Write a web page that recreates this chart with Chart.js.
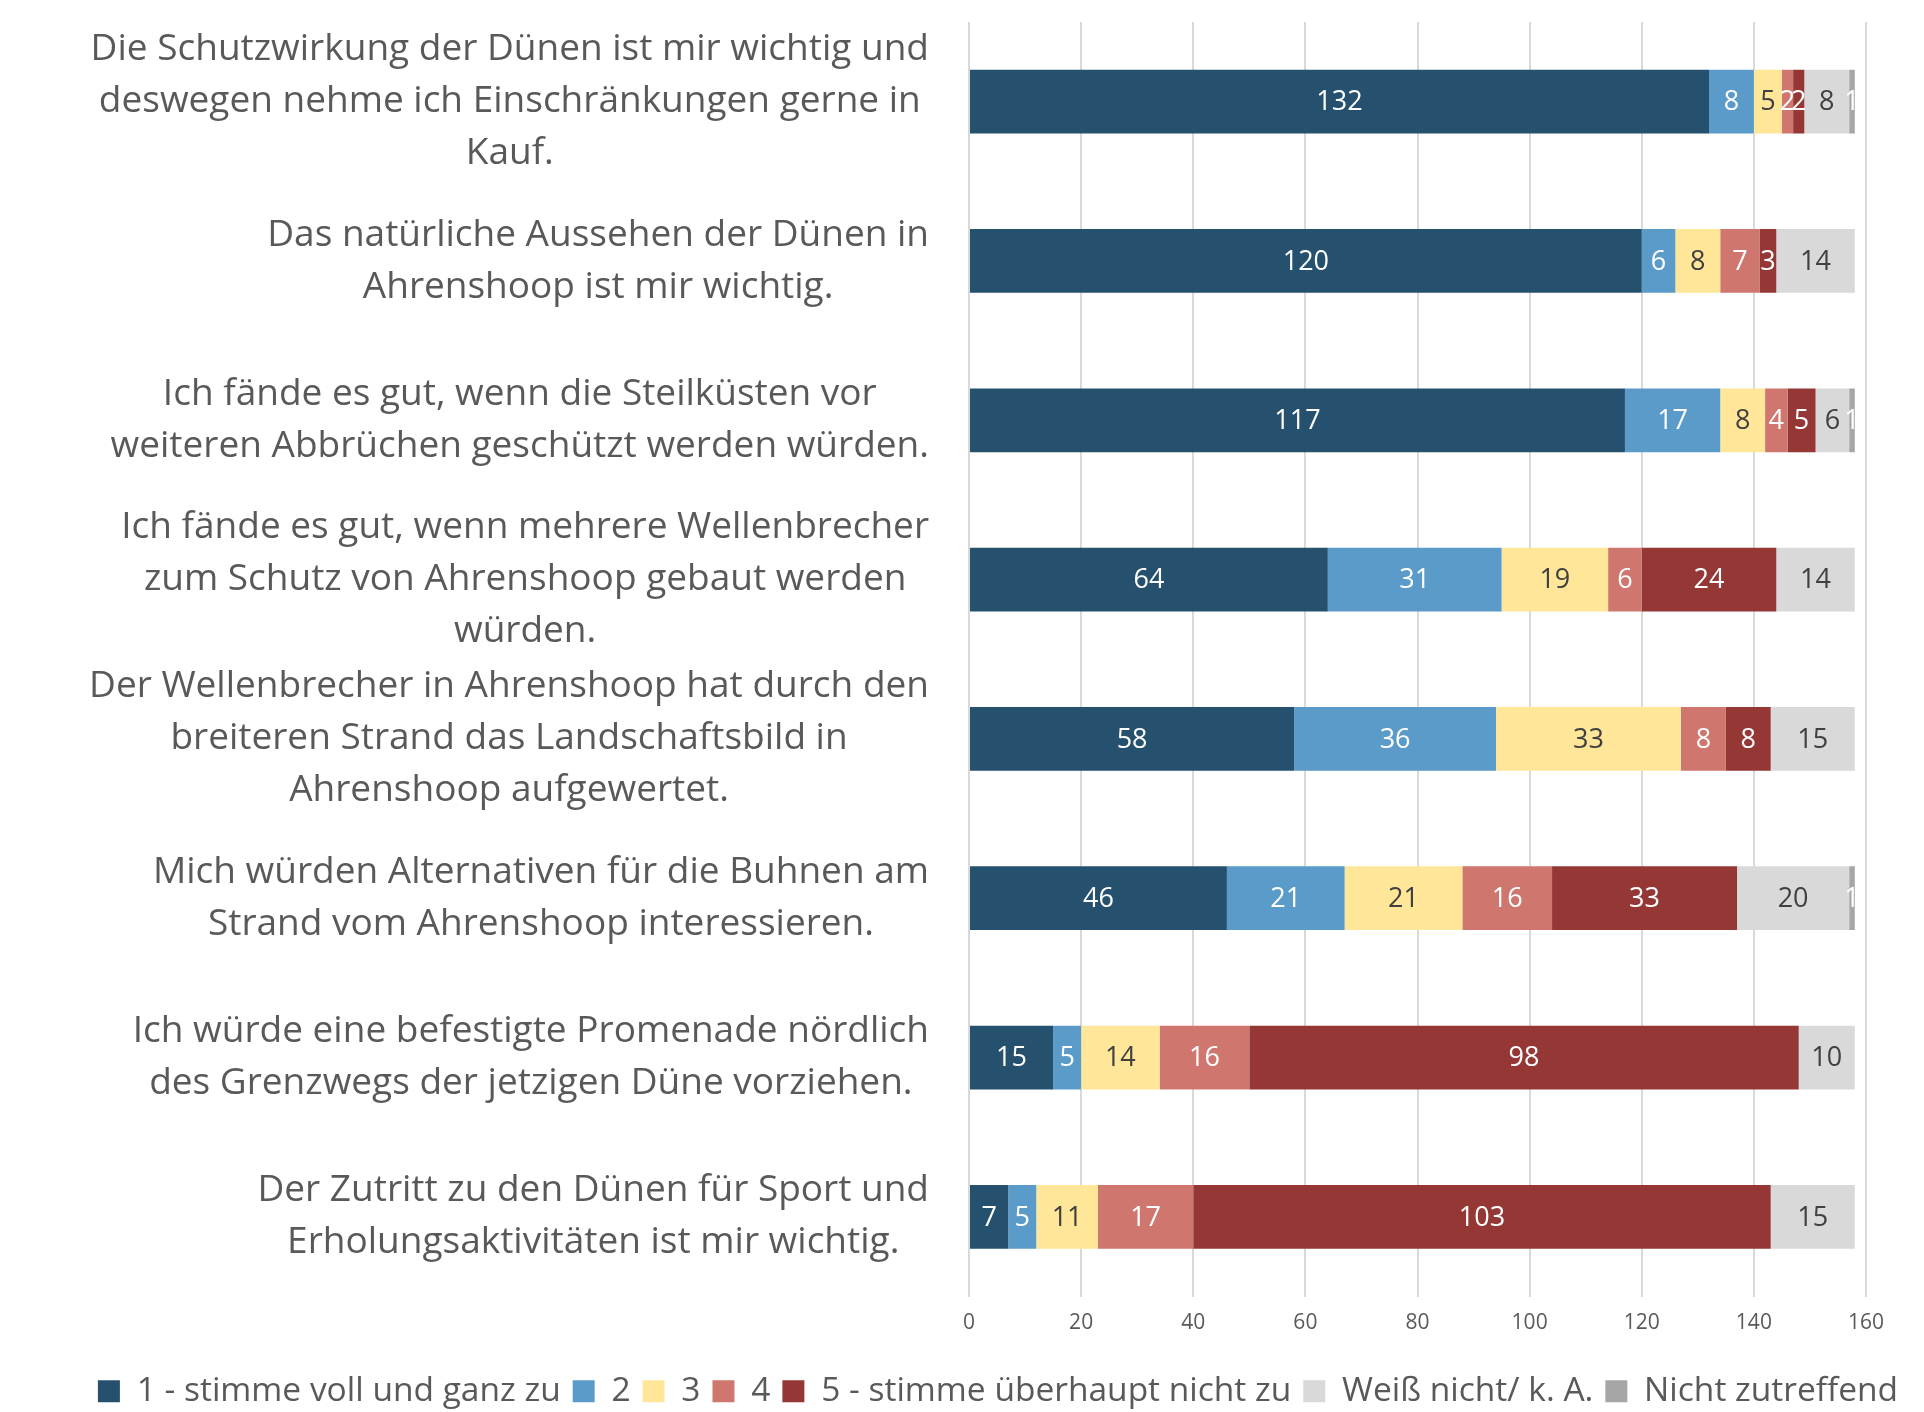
<!DOCTYPE html>
<html>
<head>
<meta charset="utf-8">
<script src="https://cdn.jsdelivr.net/npm/chart.js@4.4.1/dist/chart.umd.min.js"></script>
<style>
  html, body { margin: 0; padding: 0; background: #fff; }
  #wrap { width: 1924px; height: 1412px; }
</style>
</head>
<body>
<div id="wrap"><canvas id="chart" width="1924" height="1412"></canvas></div>
<script>
// Aussagen (Kategorien), jede Zeile schon umbrochen wie im Original
const categories = [
  ["Die Schutzwirkung der Dünen ist mir wichtig und", "deswegen nehme ich Einschränkungen gerne in", "Kauf."],
  ["Das natürliche Aussehen der Dünen in", "Ahrenshoop ist mir wichtig."],
  ["Ich fände es gut, wenn die Steilküsten vor", "weiteren Abbrüchen geschützt werden würden."],
  ["Ich fände es gut, wenn mehrere Wellenbrecher", "zum Schutz von Ahrenshoop gebaut werden", "würden."],
  ["Der Wellenbrecher in Ahrenshoop hat durch den", "breiteren Strand das Landschaftsbild in", "Ahrenshoop aufgewertet."],
  ["Mich würden Alternativen für die Buhnen am", "Strand vom Ahrenshoop interessieren."],
  ["Ich würde eine befestigte Promenade nördlich", "des Grenzwegs der jetzigen Düne vorziehen."],
  ["Der Zutritt zu den Dünen für Sport und", "Erholungsaktivitäten ist mir wichtig."]
];

const seriesNames = [
  "1 - stimme voll und ganz zu", "2", "3", "4",
  "5 - stimme überhaupt nicht zu", "Weiß nicht/ k. A.", "Nicht zutreffend"
];

const stimme1 = [132, 120, 117, 64, 58, 46, 15, 7];
const stimme2 = [8, 6, 17, 31, 36, 21, 5, 5];
const stimme3 = [5, 8, 8, 19, 33, 21, 14, 11];
const stimme4 = [2, 7, 4, 6, 8, 16, 16, 17];
const stimme5 = [2, 3, 5, 24, 8, 33, 98, 103];
const weissNicht = [8, 14, 6, 14, 15, 20, 10, 15];
const nichtZutreffend = [1, 0, 1, 0, 0, 1, 0, 0];

const xTicks = [0, 20, 40, 60, 80, 100, 120, 140, 160];

const farben = ["#25506E", "#5A9BC9", "#FFE699", "#CF766F", "#943735", "#D9D9D9", "#A6A6A6"];
const labelFarben = ["#FFFFFF", "#FFFFFF", "#404040", "#FFFFFF", "#FFFFFF", "#404040", "#FFFFFF"];
const werte = [stimme1, stimme2, stimme3, stimme4, stimme5, weissNicht, nichtZutreffend];

const FONT = "'Open Sans', 'Noto Sans', sans-serif";
const TEXT_GRAU = "#595959";

// Zahlen in die Balken schreiben
const balkenWerte = {
  id: "balkenWerte",
  afterDatasetsDraw(chart) {
    const ctx = chart.ctx;
    ctx.save();
    ctx.font = "27px " + FONT;
    ctx.textAlign = "center";
    ctx.textBaseline = "middle";
    chart.data.datasets.forEach((ds, i) => {
      const meta = chart.getDatasetMeta(i);
      meta.data.forEach((bar, j) => {
        const v = ds.data[j];
        if (!v) return;
        ctx.fillStyle = labelFarben[i];
        ctx.fillText(String(v), (bar.x + bar.base) / 2, bar.y + 1);
      });
    });
    ctx.restore();
  }
};

// Kategorietexte links, zentriert im Block, rechtsbündig am Block
const kategorieText = {
  id: "kategorieText",
  afterDraw(chart) {
    const ctx = chart.ctx;
    const yScale = chart.scales.y;
    const rechts = chart.chartArea.left - 40;
    const zeile = 52;
    ctx.save();
    ctx.font = "37px " + FONT;
    ctx.fillStyle = TEXT_GRAU;
    ctx.textAlign = "center";
    ctx.textBaseline = "middle";
    categories.forEach((lines, i) => {
      const y = yScale.getPixelForValue(i);
      const maxW = Math.max(...lines.map(l => ctx.measureText(l).width));
      const cx = rechts - maxW / 2;
      const y0 = y - (lines.length - 1) * zeile / 2;
      lines.forEach((l, k) => ctx.fillText(l, cx, y0 + k * zeile));
    });
    ctx.restore();
  }
};

// Legende etwas nach rechts schieben wie im Original
const legendeVerschieben = {
  id: "legendeVerschieben",
  afterLayout(chart) {
    const lg = chart.legend;
    if (!lg) return;
    lg.left += 65;
    lg.right += 65;
  }
};

new Chart(document.getElementById("chart"), {
  type: "bar",
  data: {
    labels: categories.map(c => c.join(" ")),
    datasets: werte.map((d, i) => ({
      label: seriesNames[i],
      data: d,
      backgroundColor: farben[i],
      borderWidth: 0,
      barPercentage: 0.4,
      categoryPercentage: 1
    }))
  },
  options: {
    indexAxis: "y",
    responsive: false,
    animation: false,
    layout: { padding: { top: 22, right: 58, bottom: -6, left: 0 } },
    scales: {
      x: {
        stacked: true,
        min: 0,
        max: 160,
        afterBuildTicks: s => { s.ticks = xTicks.map(v => ({ value: v })); },
        grid: { color: "#D9D9D9", lineWidth: 2, drawTicks: false },
        border: { display: false },
        ticks: { color: TEXT_GRAU, font: { family: FONT, size: 21 }, padding: 14 },
        afterFit: s => { s.height = 66; }
      },
      y: {
        stacked: true,
        grid: { display: false },
        border: { display: false },
        ticks: { display: false },
        afterFit: s => { s.width = 969; }
      }
    },
    plugins: {
      legend: {
        position: "bottom",
        labels: {
          color: TEXT_GRAU,
          font: { family: FONT, size: 33.5 },
          boxWidth: 22,
          boxHeight: 22,
          padding: 12
        }
      },
      tooltip: { enabled: false }
    }
  },
  plugins: [balkenWerte, kategorieText, legendeVerschieben]
});
</script>
</body>
</html>
